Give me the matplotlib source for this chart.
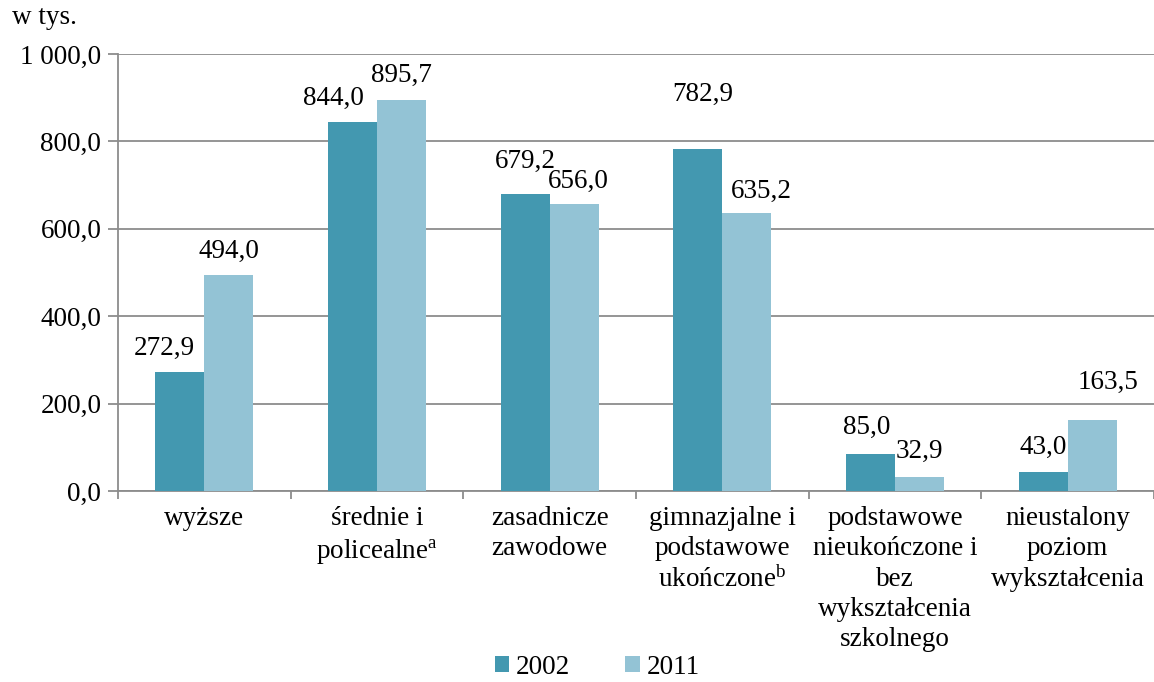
import numpy as np
import matplotlib
matplotlib.use("Agg")
import matplotlib.pyplot as plt
from matplotlib.ticker import FuncFormatter, FixedLocator

categories = [
    "wyższe",
    "średnie i\npolicealne$^{\\mathrm{a}}$",
    "zasadnicze\nzawodowe",
    "gimnazjalne i\npodstawowe\nukończone$^{\\mathrm{b}}$",
    "podstawowe\nnieukończone i\nbez\nwykształcenia\nszkolnego",
    "nieustalony\npoziom\nwykształcenia",
]
years = ["2002", "2011"]
values_2002 = [272.9, 844.0, 679.2, 782.9, 85.0, 43.0]
values_2011 = [494.0, 895.7, 656.0, 635.2, 32.9, 163.5]

COLORS = ["#4398b0", "#93c3d5"]
# label nudges in pixels (dx, dy above bar top)
OFFSETS_2002 = [(-16, 17), (-19, 17), (0, 26), (5, 48), (-4, 20), (0, 18)]
OFFSETS_2011 = [(0, 17), (0, 18), (4, 16), (15, 16), (0, 19), (16, 31)]

plt.rcParams["font.family"] = ["Liberation Serif", "DejaVu Serif"]
plt.rcParams["mathtext.fontset"] = "custom"
plt.rcParams["mathtext.rm"] = "Liberation Serif"
plt.rcParams["mathtext.it"] = "Liberation Serif:italic"
FS = 19.5

DPI = 100
fig = plt.figure(figsize=(11.54, 6.82), dpi=DPI)
ax = fig.add_axes([118 / 1154, 1 - 491 / 682, 1036 / 1154, 437 / 682])

x = np.arange(len(categories))
w = 0.284
b1 = ax.bar(x - w / 2, values_2002, w, color=COLORS[0], label=years[0], zorder=3)
b2 = ax.bar(x + w / 2, values_2011, w, color=COLORS[1], label=years[1], zorder=3)

px2pt = 72 / DPI
for bars, vals, offs in [(b1, values_2002, OFFSETS_2002), (b2, values_2011, OFFSETS_2011)]:
    for rect, v, (dx, dy) in zip(bars, vals, offs):
        ax.annotate(f"{v:.1f}".replace(".", ","),
                    (rect.get_x() + rect.get_width() / 2, v),
                    xytext=(dx * px2pt, dy * px2pt), textcoords="offset points",
                    ha="center", va="baseline", fontsize=FS, color="black")

ax.set_xlim(-0.5, len(categories) - 0.5)
ax.set_ylim(0, 1000)
ax.set_yticks(np.arange(0, 1001, 200))


def fmt(v, pos):
    s = f"{v:,.1f}".replace(",", " ").replace(".", ",")
    return s


ax.yaxis.set_major_formatter(FuncFormatter(fmt))
ax.grid(axis="y", color="#8c8c8c", linewidth=1.3, zorder=0)
ax.set_xticks(x, categories)
for lbl in ax.get_xticklabels():
    lbl.set_linespacing(1.27)
ax.xaxis.set_minor_locator(FixedLocator(np.arange(-0.5, len(categories), 1.0)))
ax.tick_params(axis="x", which="major", length=0, pad=11, labelsize=FS)
ax.tick_params(axis="x", which="minor", length=6, width=1.3, color="#8c8c8c")
ax.tick_params(axis="y", length=7, width=1.3, color="#8c8c8c", pad=5, labelsize=FS)

for side in ["top", "right"]:
    ax.spines[side].set_visible(False)
for side in ["left", "bottom"]:
    ax.spines[side].set_color("#8c8c8c")
    ax.spines[side].set_linewidth(1.3)

fig.text(12 / 1154, 1 - 18 / 682, "w tys.", fontsize=FS, va="center", ha="left")

fig.legend(handles=[b1, b2], labels=years, loc="center",
           bbox_to_anchor=(597 / 1154, 1 - 667 / 682), ncol=2, frameon=False,
           fontsize=FS, handlelength=0.55, handleheight=0.55,
           handletextpad=0.25, columnspacing=2.0, borderpad=0)

fig.savefig("out.png", dpi=DPI)
